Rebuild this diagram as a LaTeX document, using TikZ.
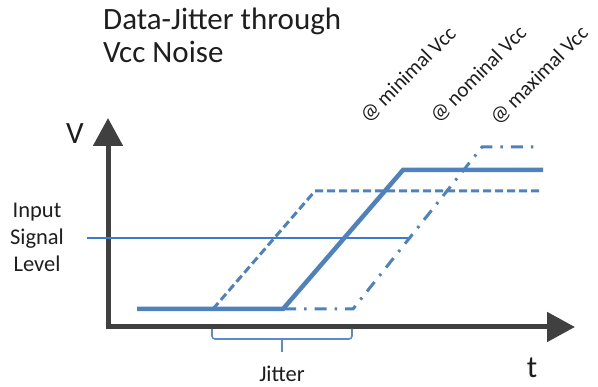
\documentclass[tikz,border=0pt]{standalone}
\usepackage{fontspec}
\setmainfont{Carlito}
\usetikzlibrary{arrows.meta}

\definecolor{axisgray}{HTML}{404040}
\definecolor{sigblue}{HTML}{4F81BD}
\definecolor{levelblue}{HTML}{3C7AD2}
\definecolor{braceblue}{HTML}{5B8CC8}
\definecolor{txt}{HTML}{1E1E1E}

\tikzset{
  axisline/.style={draw=axisgray, line width=5pt, -{Triangle[width=29pt,length=28pt]}},
  nominalwave/.style={draw=sigblue, line width=4.5pt},
  minwave/.style={draw=sigblue, line width=3pt, dash pattern=on 8pt off 4pt},
  maxwave/.style={draw=sigblue, line width=3pt, dash pattern=on 12pt off 8pt on 2.5pt off 8pt},
  levelline/.style={draw=levelblue, line width=1.4pt},
  jitterbrace/.style={draw=braceblue, line width=1.6pt, rounded corners=3pt},
  lbl/.style={text=txt, inner sep=0pt, font=\fontsize{22.5}{27}\selectfont},
  vcclabel/.style={text=txt, inner sep=0pt, font=\fontsize{21}{27}\selectfont,
                   rotate=45, anchor=base west},
}

\begin{document}
\begin{tikzpicture}[x=1pt, y=-1pt]
  \useasboundingbox (0,0) rectangle (598,387);

  % title (anchored on the baseline of its last line)
  \node[text=txt, inner sep=0pt, anchor=base west, align=left,
        font=\fontsize{31}{33}\selectfont] (title) at (103,63)
        {Data-Jitter through\\Vcc Noise};

  % axes
  \coordinate (origin) at (108,327);
  \coordinate (vtip) at (108,118);
  \coordinate (ttip) at (575,327);
  \draw[axisline] (108,329.5) -- (vtip);
  \draw[axisline] (105.5,327) -- (ttip);
  \node[text=txt, inner sep=0pt, font=\fontsize{31}{31}\selectfont] (vlabel) at (75,134) {V};
  \node[text=txt, inner sep=0pt, font=\fontsize{31}{31}\selectfont] (tlabel) at (532,368) {t};

  % input signal threshold
  \coordinate (lvlL) at (87,238);
  \coordinate (lvlR) at (410,238);
  \draw[levelline] (lvlL) -- (lvlR);
  \node[lbl, align=center, anchor=base] (inlabel) at (37,272)
        {Input\\Signal\\Level};

  % waveform at minimal Vcc (dashed)
  \coordinate (a1) at (213,309);
  \coordinate (a2) at (315,191);
  \coordinate (a3) at (540,191);
  \draw[minwave] (a1) -- (a2) -- (a3);

  % waveform at maximal Vcc (dash-dot)
  \coordinate (c1) at (284,309);
  \coordinate (c2) at (353,309);
  \coordinate (c3) at (482,147);
  \coordinate (c4) at (534,147);
  \draw[maxwave] (c1) -- (c2) -- (c3) -- (c4);

  % waveform at nominal Vcc (solid)
  \coordinate (b0) at (137,309);
  \coordinate (b1) at (283,309);
  \coordinate (b2) at (403,170);
  \coordinate (b3) at (543,170);
  \draw[nominalwave] (b0) -- (b1) -- (b2) -- (b3);

  % curve labels
  \node[vcclabel] (minlabel) at (368,124) {@ minimal Vcc};
  \node[vcclabel] (nomlabel) at (438,124) {@ nominal Vcc};
  \node[vcclabel] (maxlabel) at (498,126) {@ maximal Vcc};

  % jitter brace
  \coordinate (jl) at (212,329);
  \coordinate (jr) at (352,329);
  \coordinate (jm) at (282,339);
  \coordinate (jt) at (282,352);
  \draw[jitterbrace] (jl) -- (212,339) -- (352,339) -- (jr);
  \draw[jitterbrace] (jm) -- (jt);
  \node[lbl, anchor=base] (jitter) at (282,382) {Jitter};
\end{tikzpicture}
\end{document}
